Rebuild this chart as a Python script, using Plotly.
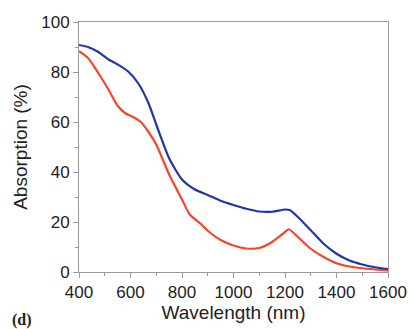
import plotly.graph_objects as go

wl_blue = [400, 435, 475, 515, 550, 590, 630, 670, 700, 750, 800, 850, 900, 950, 1000, 1050, 1100, 1150, 1200, 1220, 1250, 1300, 1350, 1400, 1450, 1500, 1550, 1600]
abs_blue = [90.8, 90.0, 88.0, 85.0, 83.0, 80.3, 75.5, 67.5, 59.0, 45.5, 37.0, 33.0, 30.8, 28.5, 26.8, 25.3, 24.2, 24.1, 25.0, 24.7, 22.0, 16.7, 11.3, 7.3, 4.6, 3.0, 1.9, 1.2]

wl_red = [400, 435, 475, 515, 550, 580, 610, 640, 670, 700, 750, 800, 830, 870, 900, 950, 1000, 1050, 1100, 1150, 1200, 1215, 1250, 1300, 1350, 1400, 1450, 1500, 1550, 1600]
abs_red = [88.3, 85.6, 79.6, 72.9, 66.5, 63.5, 62.0, 60.0, 56.0, 51.0, 39.0, 29.0, 23.0, 19.5, 16.5, 12.8, 10.6, 9.4, 9.6, 12.0, 16.0, 17.1, 14.0, 9.3, 6.0, 3.5, 2.2, 1.5, 1.0, 0.6]

x_ticks = [400, 600, 800, 1000, 1200, 1400, 1600]
y_ticks = [0, 20, 40, 60, 80, 100]

FONT = "Liberation Sans, Arial, sans-serif"

fig = go.Figure()
fig.add_trace(go.Scatter(x=wl_red, y=abs_red, mode="lines", line=dict(color="#f4462b", width=2.2, shape="spline", smoothing=0.6), showlegend=False))
fig.add_trace(go.Scatter(x=wl_blue, y=abs_blue, mode="lines", line=dict(color="#2236a3", width=2.2, shape="spline", smoothing=0.6), showlegend=False))

axis_common = dict(showgrid=False, zeroline=False, showline=True, linecolor="#9a9a9a", linewidth=1,
                   mirror=True, ticks="outside", ticklen=5, tickcolor="#9a9a9a", automargin=False,
                   tickfont=dict(family=FONT, size=17, color="#222"))

fig.update_layout(
    width=410, height=329,
    margin=dict(l=79, r=22, t=22, b=57),
    paper_bgcolor="white", plot_bgcolor="white",
    xaxis=dict(axis_common, range=[400, 1600], tickvals=x_ticks, ticktext=[str(v) for v in x_ticks],
               minor=dict(ticks="outside", ticklen=3, tickcolor="#9a9a9a", dtick=100),
               title=dict(text="Wavelength (nm)", font=dict(family=FONT, size=19, color="#222"), standoff=2)),
    yaxis=dict(axis_common, range=[0, 100], tickvals=y_ticks, ticktext=[str(v) for v in y_ticks],
               minor=dict(ticks="outside", ticklen=3, tickcolor="#9a9a9a", dtick=10),
               title=dict(text="Absorption (%)", font=dict(family=FONT, size=19, color="#222"), standoff=8)),
)
fig.add_annotation(text="<b>(d)</b>", xref="paper", yref="paper", x=-0.223, y=-0.192, xanchor="left", yanchor="middle",
                   showarrow=False, font=dict(family="Liberation Serif, Times New Roman, serif", size=16, color="#222"))
fig.write_html("out.html", config={"displayModeBar": False}, post_script="document.body.style.margin='0';")
